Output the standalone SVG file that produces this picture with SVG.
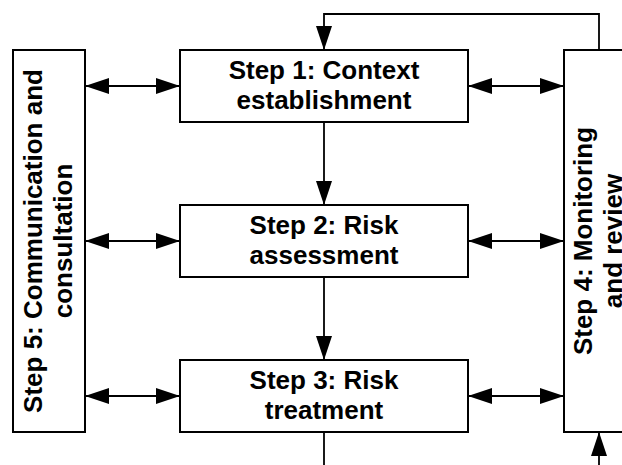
<svg xmlns="http://www.w3.org/2000/svg" width="622" height="465" viewBox="0 0 622 465">
  <style>
    .box { fill: #ffffff; stroke: #000000; stroke-width: 2; }
    .lbl { font-family: "Liberation Sans", Arial, sans-serif; font-weight: bold; font-size: 26px; fill: #000000; text-anchor: middle; }
    .wire { fill: none; stroke: #000000; stroke-width: 1.8; }
  </style>
  <defs>
    <marker id="head" viewBox="0 0 24 16" refX="24" refY="8" markerWidth="24" markerHeight="16" markerUnits="userSpaceOnUse" orient="auto-start-reverse">
      <path d="M0,0 L24,8 L0,16 z" fill="#000000"/>
    </marker>
  </defs>

  <rect width="622" height="465" fill="#ffffff"/>

  <!-- connectors -->
  <g id="connectors">
    <!-- feedback loop from monitoring back to context -->
    <polyline class="wire" points="599,50 599,14 324,14 324,50" marker-end="url(#head)"/>
    <!-- main flow -->
    <line class="wire" x1="324" y1="122" x2="324" y2="205" marker-end="url(#head)"/>
    <line class="wire" x1="324" y1="277" x2="324" y2="360" marker-end="url(#head)"/>
    <line class="wire" x1="324" y1="432" x2="324" y2="465"/>
    <line class="wire" x1="599" y1="465" x2="599" y2="432" marker-end="url(#head)"/>
    <!-- communication links -->
    <line class="wire" x1="85" y1="86" x2="180" y2="86" marker-start="url(#head)" marker-end="url(#head)"/>
    <line class="wire" x1="85" y1="241" x2="180" y2="241" marker-start="url(#head)" marker-end="url(#head)"/>
    <line class="wire" x1="85" y1="396" x2="180" y2="396" marker-start="url(#head)" marker-end="url(#head)"/>
    <!-- monitoring links -->
    <line class="wire" x1="468" y1="86" x2="564" y2="86" marker-start="url(#head)" marker-end="url(#head)"/>
    <line class="wire" x1="468" y1="241" x2="564" y2="241" marker-start="url(#head)" marker-end="url(#head)"/>
    <line class="wire" x1="468" y1="396" x2="564" y2="396" marker-start="url(#head)" marker-end="url(#head)"/>
  </g>

  <g id="step5">
    <rect class="box" x="13" y="50" width="72" height="382"/>
    <g transform="translate(49,241) rotate(-90)">
      <text class="lbl" x="0" y="-7">Step 5: Communication and</text>
      <text class="lbl" x="0" y="23">consultation</text>
    </g>
  </g>

  <g id="step1">
    <rect class="box" x="180" y="50" width="288" height="72"/>
    <text class="lbl" x="324" y="79">Step 1: Context</text>
    <text class="lbl" x="324" y="109">establishment</text>
  </g>

  <g id="step2">
    <rect class="box" x="180" y="205" width="288" height="72"/>
    <text class="lbl" x="324" y="234">Step 2: Risk</text>
    <text class="lbl" x="324" y="264">assessment</text>
  </g>

  <g id="step3">
    <rect class="box" x="180" y="360" width="288" height="72"/>
    <text class="lbl" x="324" y="389">Step 3: Risk</text>
    <text class="lbl" x="324" y="419">treatment</text>
  </g>

  <g id="step4">
    <rect class="box" x="564" y="50" width="70" height="382"/>
    <g transform="translate(599,241) rotate(-90)">
      <text class="lbl" x="0" y="-7">Step 4: Monitoring</text>
      <text class="lbl" x="0" y="23">and review</text>
    </g>
  </g>
</svg>
